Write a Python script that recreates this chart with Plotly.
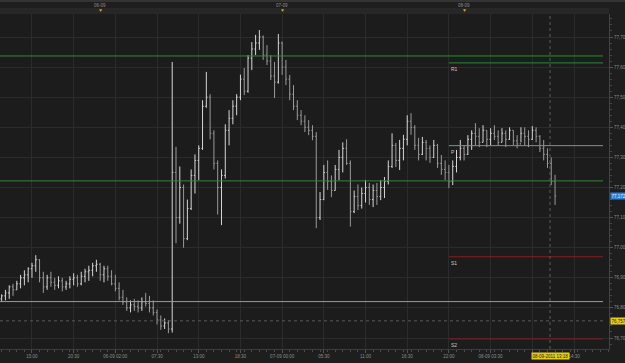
import plotly.graph_objects as go
import pandas as pd

# ---------------- data ----------------
bar_start = "2011-09-05 11:00"
bar_freq = "30min"

opens = [76.83, 76.84, 76.85, 76.87, 76.86, 76.88, 76.90, 76.91, 76.93, 76.94,
         76.96, 76.90, 76.87, 76.90, 76.885, 76.875, 76.89, 76.87, 76.88, 76.895,
         76.90, 76.88, 76.905, 76.92, 76.925, 76.94, 76.945, 76.91, 76.93, 76.905,
         76.88, 76.865, 76.835, 76.82, 76.80, 76.81, 76.805, 76.80, 76.82, 76.815,
         76.80, 76.785, 76.76, 76.74, 76.75, 76.73, 77.25, 77.10, 77.20, 77.03,
         77.13, 77.24, 77.29, 77.33, 77.47, 77.50, 77.38, 77.28, 77.20, 77.24,
         77.39, 77.43, 77.47, 77.50, 77.56, 77.52, 77.63, 77.66, 77.68, 77.70,
         77.64, 77.62, 77.57, 77.55, 77.68, 77.60, 77.56, 77.51, 77.47, 77.44,
         77.42, 77.40, 77.39, 77.37, 77.10, 77.16, 77.25, 77.22, 77.19, 77.26,
         77.30, 77.33, 77.28, 77.12, 77.17, 77.14, 77.18, 77.20, 77.16, 77.19,
         77.17, 77.20, 77.22, 77.27, 77.34, 77.29, 77.33, 77.36, 77.42, 77.40,
         77.34, 77.31, 77.35, 77.33, 77.30, 77.34, 77.28, 77.26, 77.25, 77.22,
         77.27, 77.30, 77.33, 77.31, 77.36, 77.38, 77.37, 77.35, 77.39, 77.36,
         77.38, 77.37, 77.35, 77.38, 77.36, 77.39, 77.355, 77.345, 77.38, 77.37,
         77.36, 77.39, 77.37, 77.33, 77.31, 77.28, 77.22]

highs = [76.845, 76.86, 76.875, 76.88, 76.89, 76.91, 76.925, 76.935, 76.95, 76.975,
         76.962, 76.92, 76.91, 76.92, 76.90, 76.905, 76.90, 76.89, 76.905, 76.915,
         76.91, 76.92, 76.93, 76.94, 76.95, 76.96, 76.95, 76.94, 76.94, 76.925,
         76.91, 76.885, 76.86, 76.835, 76.825, 76.83, 76.825, 76.835, 76.85, 76.84,
         76.825, 76.795, 76.775, 76.765, 76.76, 77.617, 77.335, 77.27, 77.21, 77.16,
         77.26, 77.31, 77.34, 77.49, 77.584, 77.51, 77.39, 77.29, 77.26, 77.41,
         77.457, 77.49, 77.51, 77.575, 77.597, 77.64, 77.683, 77.707, 77.723, 77.705,
         77.673, 77.64, 77.617, 77.71, 77.685, 77.624, 77.574, 77.54, 77.49, 77.457,
         77.44, 77.424, 77.407, 77.384, 77.185, 77.275, 77.29, 77.24, 77.275, 77.325,
         77.35, 77.36, 77.29, 77.19, 77.21, 77.20, 77.225, 77.215, 77.21, 77.215,
         77.225, 77.235, 77.29, 77.38, 77.348, 77.358, 77.375, 77.44, 77.447, 77.407,
         77.365, 77.368, 77.358, 77.34, 77.358, 77.345, 77.308, 77.29, 77.275, 77.29,
         77.325, 77.358, 77.34, 77.374, 77.39, 77.414, 77.397, 77.407, 77.39, 77.397,
         77.407, 77.39, 77.397, 77.39, 77.40, 77.39, 77.374, 77.40, 77.40, 77.39,
         77.404, 77.40, 77.374, 77.358, 77.33, 77.30, 77.242]

lows = [76.82, 76.825, 76.83, 76.84, 76.86, 76.865, 76.875, 76.885, 76.90, 76.92,
        76.885, 76.85, 76.86, 76.87, 76.86, 76.865, 76.855, 76.86, 76.865, 76.875,
        76.87, 76.875, 76.885, 76.89, 76.905, 76.92, 76.89, 76.885, 76.89, 76.875,
        76.855, 76.825, 76.81, 76.79, 76.785, 76.79, 76.785, 76.79, 76.805, 76.785,
        76.775, 76.745, 76.727, 76.73, 76.716, 76.718, 77.015, 77.08, 77.00, 77.025,
        77.125, 77.18, 77.225, 77.325, 77.465, 77.36, 77.26, 77.11, 77.075, 77.23,
        77.34, 77.41, 77.44, 77.49, 77.507, 77.515, 77.59, 77.64, 77.657, 77.624,
        77.607, 77.557, 77.497, 77.545, 77.574, 77.54, 77.49, 77.457, 77.424, 77.407,
        77.384, 77.374, 77.357, 77.065, 77.092, 77.158, 77.192, 77.168, 77.19, 77.225,
        77.25, 77.275, 77.07, 77.115, 77.125, 77.13, 77.15, 77.142, 77.135, 77.142,
        77.158, 77.165, 77.21, 77.265, 77.268, 77.258, 77.29, 77.34, 77.375, 77.325,
        77.29, 77.308, 77.29, 77.282, 77.298, 77.265, 77.242, 77.225, 77.198, 77.208,
        77.25, 77.29, 77.29, 77.308, 77.325, 77.34, 77.334, 77.35, 77.334, 77.34,
        77.358, 77.34, 77.35, 77.334, 77.358, 77.34, 77.33, 77.35, 77.34, 77.334,
        77.358, 77.35, 77.318, 77.29, 77.265, 77.208, 77.142]

closes = [76.84, 76.85, 76.87, 76.86, 76.88, 76.90, 76.91, 76.93, 76.94, 76.96,
          76.90, 76.87, 76.90, 76.885, 76.875, 76.89, 76.87, 76.88, 76.895, 76.90,
          76.88, 76.905, 76.92, 76.925, 76.94, 76.945, 76.91, 76.93, 76.905, 76.88,
          76.865, 76.835, 76.82, 76.80, 76.81, 76.805, 76.80, 76.82, 76.815, 76.80,
          76.785, 76.76, 76.74, 76.75, 76.73, 77.25, 77.10, 77.20, 77.03, 77.13,
          77.24, 77.29, 77.33, 77.47, 77.50, 77.38, 77.28, 77.20, 77.24, 77.39,
          77.43, 77.47, 77.50, 77.56, 77.52, 77.63, 77.66, 77.68, 77.70, 77.64,
          77.62, 77.57, 77.55, 77.68, 77.60, 77.56, 77.51, 77.47, 77.44, 77.42,
          77.40, 77.39, 77.37, 77.10, 77.16, 77.25, 77.22, 77.19, 77.26, 77.30,
          77.33, 77.28, 77.12, 77.17, 77.14, 77.18, 77.20, 77.16, 77.19, 77.17,
          77.20, 77.22, 77.27, 77.34, 77.29, 77.33, 77.36, 77.42, 77.40, 77.34,
          77.31, 77.35, 77.33, 77.30, 77.34, 77.28, 77.26, 77.25, 77.22, 77.27,
          77.30, 77.33, 77.31, 77.36, 77.38, 77.37, 77.35, 77.39, 77.36, 77.38,
          77.37, 77.35, 77.38, 77.36, 77.39, 77.355, 77.345, 77.38, 77.37, 77.36,
          77.39, 77.37, 77.33, 77.31, 77.28, 77.22, 77.172]

times = pd.date_range(bar_start, periods=len(closes), freq=bar_freq)

# full-width horizontal levels
band_values = [77.637, 77.222, 76.821]
band_colors = ["#2f8a2f", "#2f8a2f", "#9c9c9c"]

# daily pivot levels
pivot_names = ["R1", "P", "S1", "S2"]
pivot_values = [77.614, 77.339, 76.970, 76.697]
pivot_colors = ["#2f8a2f", "#8e8e8e", "#8a1e1e", "#8a1e1e"]
pivot_start = "2011-09-07 22:00"

# crosshair / labels
cursor_time = "2011-09-08 11:20"
cursor_label = "08-09-2011 13:18"
cursor_price = 76.757
cursor_price_label = "76,757"
last_price = 77.172
last_price_label = "77,172"

day_marks = ["2011-09-06 00:00", "2011-09-07 00:00", "2011-09-08 00:00"]
day_labels = ["06-09", "07-09", "08-09"]

x_tickvals = ["2011-09-05 15:00", "2011-09-05 20:30", "2011-09-06 02:00", "2011-09-06 07:30",
              "2011-09-06 13:00", "2011-09-06 18:30", "2011-09-07 00:00", "2011-09-07 05:30",
              "2011-09-07 11:00", "2011-09-07 16:30", "2011-09-07 22:00", "2011-09-08 03:30",
              "2011-09-08 09:00", "2011-09-08 14:30"]
# the 09:00 label sits under the cursor date label in the reference
x_ticktext = ["15:00", "20:30", "06-09 02:00", "07:30", "13:00", "18:30", "07-09 00:00",
              "05:30", "11:00", "16:30", "22:00", "08-09 03:30", "", "14:30"]
y_tickvals = [76.70, 76.80, 76.90, 77.00, 77.10, 77.20, 77.30, 77.40, 77.50, 77.60, 77.70]

x_range = ["2011-09-05 10:47", "2011-09-08 19:07"]
line_end = "2011-09-08 18:20"
y_range = [76.6635, 77.7764]

# ---------------- figure ----------------
FONT = "Liberation Sans"
fig = go.Figure()
fig.add_trace(go.Ohlc(
    x=times, open=opens, high=highs, low=lows, close=closes,
    increasing=dict(line=dict(color="#d6d6d6", width=1)),
    decreasing=dict(line=dict(color="#9a9a9a", width=1)),
    tickwidth=0.3, hoverinfo="skip", showlegend=False,
))

shapes = []
plot_h = 363 - 14 - 14
def py(px_from_plot_top):
    return 1 + px_from_plot_top / plot_h
shapes.append(dict(type="rect", xref="paper", yref="paper", x0=0, x1=1, y0=py(0), y1=py(6),
                   fillcolor="#272727", line=dict(width=0), layer="below"))
shapes.append(dict(type="line", xref="paper", yref="paper", x0=0, x1=1.03, y0=py(13), y1=py(13),
                   line=dict(color="#4a4a4a", width=1)))

for v, c in zip(band_values, band_colors):
    shapes.append(dict(type="line", xref="x", yref="y", x0=x_range[0], x1=line_end, y0=v, y1=v,
                       line=dict(color=c, width=1)))
for v, c in zip(pivot_values, pivot_colors):
    shapes.append(dict(type="line", xref="x", yref="y", x0=pivot_start, x1=line_end, y0=v, y1=v,
                       line=dict(color=c, width=1)))
shapes.append(dict(type="line", xref="x", yref="paper", x0=cursor_time, x1=cursor_time, y0=0, y1=1,
                   line=dict(color="#5a5a5a", width=1, dash="dot")))
shapes.append(dict(type="line", xref="x", yref="y", x0=x_range[0], x1=line_end,
                   y0=cursor_price, y1=cursor_price,
                   line=dict(color="#5a5a5a", width=1, dash="dot")))

annotations = []
for n, v in zip(pivot_names, pivot_values):
    annotations.append(dict(x=pivot_start, y=v, xref="x", yref="y", text=n, showarrow=False,
                            xanchor="left", yanchor="top", yshift=-1, xshift=0,
                            font=dict(family=FONT, size=5, color="#c8c8c8")))
for d, t in zip(day_marks, day_labels):
    annotations.append(dict(x=d, y=py(9), xref="x", yref="paper", text=t, showarrow=False,
                            xanchor="center", yanchor="middle",
                            font=dict(family=FONT, size=4.5, color="#8c8c8c")))
    annotations.append(dict(x=d, y=py(4), xref="x", yref="paper", text="▼", showarrow=False,
                            xanchor="center", yanchor="middle",
                            font=dict(family=FONT, size=5, color="#d9a21b")))
annotations.append(dict(x=1, y=last_price, xref="paper", yref="y", text=last_price_label,
                        showarrow=False, xanchor="left", yanchor="middle", xshift=1,
                        bgcolor="#2f7fd3", borderpad=0.5,
                        font=dict(family=FONT, size=4.5, color="#e8eef8")))
annotations.append(dict(x=1, y=cursor_price, xref="paper", yref="y", text=cursor_price_label,
                        showarrow=False, xanchor="left", yanchor="middle", xshift=1,
                        bgcolor="#e8c91c", borderpad=0.5,
                        font=dict(family=FONT, size=4.5, color="#222222")))
annotations.append(dict(x=cursor_time, y=-7 / plot_h, xref="x", yref="paper", text=cursor_label,
                        showarrow=False, xanchor="center", yanchor="middle",
                        bgcolor="#e8c91c", borderpad=0.5,
                        font=dict(family=FONT, size=4.5, color="#222222")))

fig.update_layout(
    width=625, height=363,
    margin=dict(l=0, r=16, t=14, b=14, pad=0),
    paper_bgcolor="#1e1e1e", plot_bgcolor="#1c1c1c",
    separators=",.",
    font=dict(family=FONT, size=5, color="#8c8c8c"),
    shapes=shapes, annotations=annotations,
    showlegend=False,
    xaxis=dict(
        type="date", range=x_range, tickmode="array", tickvals=x_tickvals, ticktext=x_ticktext,
        showgrid=True, gridcolor="#2b2b2b", gridwidth=1, zeroline=False,
        ticks="outside", ticklen=3, tickcolor="#555555",
        showline=True, linecolor="#3c3c3c", linewidth=1,
        tickfont=dict(family=FONT, size=4.5, color="#8c8c8c"),
        minor=dict(ticks="outside", ticklen=2, dtick=3600000, tick0="2011-09-05 00:00",
                   tickcolor="#4a4a4a", showgrid=False),
        rangeslider=dict(visible=False), fixedrange=True,
    ),
    yaxis=dict(
        side="right", range=y_range, tickmode="array", tickvals=y_tickvals, tickformat=".2f",
        showgrid=True, gridcolor="#2b2b2b", gridwidth=1, zeroline=False,
        ticks="outside", ticklen=3, tickcolor="#555555",
        showline=True, linecolor="#444444", linewidth=1,
        tickfont=dict(family=FONT, size=4.5, color="#8c8c8c"),
        minor=dict(ticks="outside", ticklen=2, dtick=0.02, tickcolor="#444444", showgrid=False),
        fixedrange=True,
    ),
)

fig.write_html("out.html")
